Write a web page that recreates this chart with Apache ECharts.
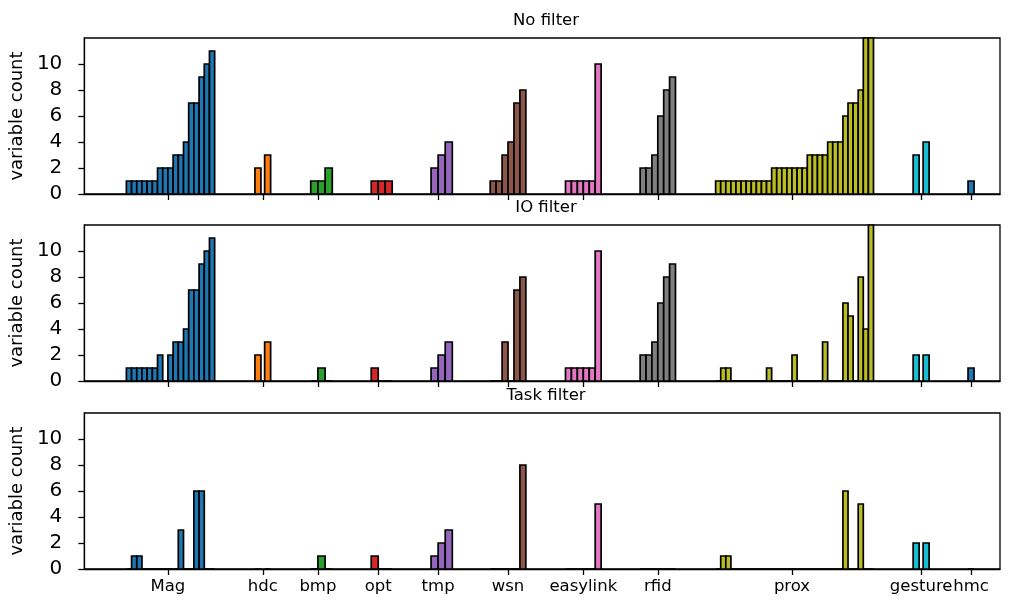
<!DOCTYPE html>
<html>
<head>
<meta charset="utf-8">
<script src="https://cdn.jsdelivr.net/npm/echarts@6/dist/echarts.min.js"></script>
<style>
  html, body { margin: 0; padding: 0; background: #fff; }
  #chart { width: 1015px; height: 604px; }
</style>
</head>
<body>
<div id="chart"></div>
<script>
var groups = ['Mag', 'hdc', 'bmp', 'opt', 'tmp', 'wsn', 'easylink', 'rfid', 'prox', 'gesture', 'hmc']

var noFilter = [
    [1, 1, 1, 1, 1, 1, 2, 2, 2, 3, 3, 4, 7, 7, 9, 10, 11],
    [2, 3],
    [1, 1, 2],
    [1, 1, 1],
    [2, 3, 4],
    [1, 1, 3, 4, 7, 8],
    [1, 1, 1, 1, 1, 10],
    [2, 2, 3, 6, 8, 9],
    [1, 1, 1, 1, 1, 1, 1, 1, 1, 1, 1, 2, 2, 2, 2, 2, 2, 2, 3, 3, 3, 3, 4, 4, 4, 6, 7, 7, 8, 12, 12],
    [3, 4],
    [1]
]

var ioFilter = [
    [1, 1, 1, 1, 1, 1, 2, 0, 2, 3, 3, 4, 7, 7, 9, 10, 11],
    [2, 3],
    [0, 1, 0],
    [1, 0, 0],
    [1, 2, 3],
    [0, 0, 3, 0, 7, 8],
    [1, 1, 1, 1, 1, 10],
    [2, 2, 3, 6, 8, 9],
    [0, 1, 1, 0, 0, 0, 0, 0, 0, 0, 1, 0, 0, 0, 0, 2, 0, 0, 0, 0, 0, 3, 0, 0, 0, 6, 5, 0, 8, 4, 12],
    [2, 2],
    [1]
]

var taskFilter = [
    [0, 1, 1, 0, 0, 0, 0, 0, 0, 0, 3, 0, 0, 6, 6, 0, 0],
    [0, 0],
    [0, 1, 0],
    [1, 0, 0],
    [1, 2, 3],
    [0, 0, 0, 0, 0, 8],
    [0, 0, 0, 0, 0, 5],
    [0, 0, 0, 0, 0, 0],
    [0, 1, 1, 0, 0, 0, 0, 0, 0, 0, 0, 0, 0, 0, 0, 0, 0, 0, 0, 0, 0, 0, 0, 0, 0, 6, 0, 0, 5, 0, 0],
    [2, 2],
    [0]
]

var titles = ['No filter', 'IO filter', 'Task filter']
var yTicks = [0, 2, 4, 6, 8, 10]

// layout: x axis runs in pixel-like units across the plot width
var tickX = [83.7, 178.7, 233.9, 294.3, 354.3, 424.3, 499.7, 574.3, 708.7, 838, 888]
var slotW = [5.2, 9.7, 7.2, 7.0, 7.1, 5.95, 5.95, 5.9, 5.1, 10, 6]
var barW = [5.2, 6, 7.2, 7.0, 7.1, 5.95, 5.95, 5.9, 5.1, 6, 6]
var colors = ['#1f77b4', '#ff7f0e', '#2ca02c', '#d62728', '#9467bd', '#8c564b',
    '#e377c2', '#7f7f7f', '#bcbd22', '#17becf', '#1f77b4']

var gridTops = [38, 225, 413]
var gridH = 156
var font = 'DejaVu Sans'

var chart = echarts.init(document.getElementById('chart'))

var toItems = function (panel) {
    var items = []
    panel.forEach(function (vals, g) {
        var n = vals.length
        var anchor = n > 1 ? Math.floor(n / 2) : 0.5
        vals.forEach(function (v, j) {
            var cx = tickX[g] + (j - anchor + 0.5) * slotW[g]
            items.push([cx, v, barW[g], g])
        })
    })
    return items
}

var renderBar = function (params, api) {
    var x = api.value(0)
    var w = api.value(2)
    var p0 = api.coord([x - w / 2, api.value(1)])
    var p1 = api.coord([x + w / 2, 0])
    return {
        type: 'rect',
        shape: { x: p0[0], y: p0[1], width: p1[0] - p0[0], height: p1[1] - p0[1] },
        style: { fill: colors[api.value(3)], stroke: '#000', lineWidth: 1.7 }
    }
}

var panels = [noFilter, ioFilter, taskFilter]

var option = {
    animation: false,
    textStyle: { fontFamily: font },
    title: titles.map(function (t, i) {
        return {
            text: t,
            left: 541,
            textAlign: 'center',
            top: gridTops[i] - 31,
            textStyle: { fontFamily: font, fontSize: 16.5, fontWeight: 'normal', color: '#000' }
        }
    }),
    grid: gridTops.map(function (top) {
        return {
            left: 83, right: 15, top: top, height: gridH,
            show: true, borderColor: '#000', borderWidth: 1.3, backgroundColor: 'transparent'
        }
    }),
    xAxis: panels.map(function (p, i) {
        return {
            type: 'value',
            gridIndex: i,
            min: 0,
            max: 917,
            splitLine: { show: false },
            axisLine: { show: true, onZero: false, lineStyle: { color: '#000', width: 1.3 } },
            axisTick: { show: true, length: 6, customValues: tickX, lineStyle: { color: '#000', width: 1.3 } },
            axisLabel: {
                show: i === 2,
                customValues: tickX,
                hideOverlap: false,
                margin: 9,
                fontSize: 16.5,
                color: '#000',
                fontFamily: font,
                formatter: function (val) {
                    var k = 0
                    tickX.forEach(function (t, idx) {
                        if (Math.abs(t - val) < Math.abs(tickX[k] - val)) k = idx
                    })
                    return groups[k]
                }
            }
        }
    }),
    yAxis: panels.map(function (p, i) {
        return {
            type: 'value',
            gridIndex: i,
            min: 0,
            max: 12,
            interval: 2,
            name: 'variable count',
            nameLocation: 'middle',
            nameGap: 57,
            nameTextStyle: { fontFamily: font, fontSize: 18, color: '#000' },
            splitLine: { show: false },
            axisLine: { show: true, lineStyle: { color: '#000', width: 1.3 } },
            axisTick: { show: true, length: 6, customValues: yTicks, lineStyle: { color: '#000', width: 1.3 } },
            axisLabel: { customValues: yTicks, fontSize: 20, color: '#000', fontFamily: font, margin: 22 }
        }
    }),
    series: panels.map(function (p, i) {
        return {
            type: 'custom',
            xAxisIndex: i,
            yAxisIndex: i,
            renderItem: renderBar,
            encode: { x: 0, y: 1 },
            data: toItems(p)
        }
    })
}

chart.setOption(option)
</script>
</body>
</html>
